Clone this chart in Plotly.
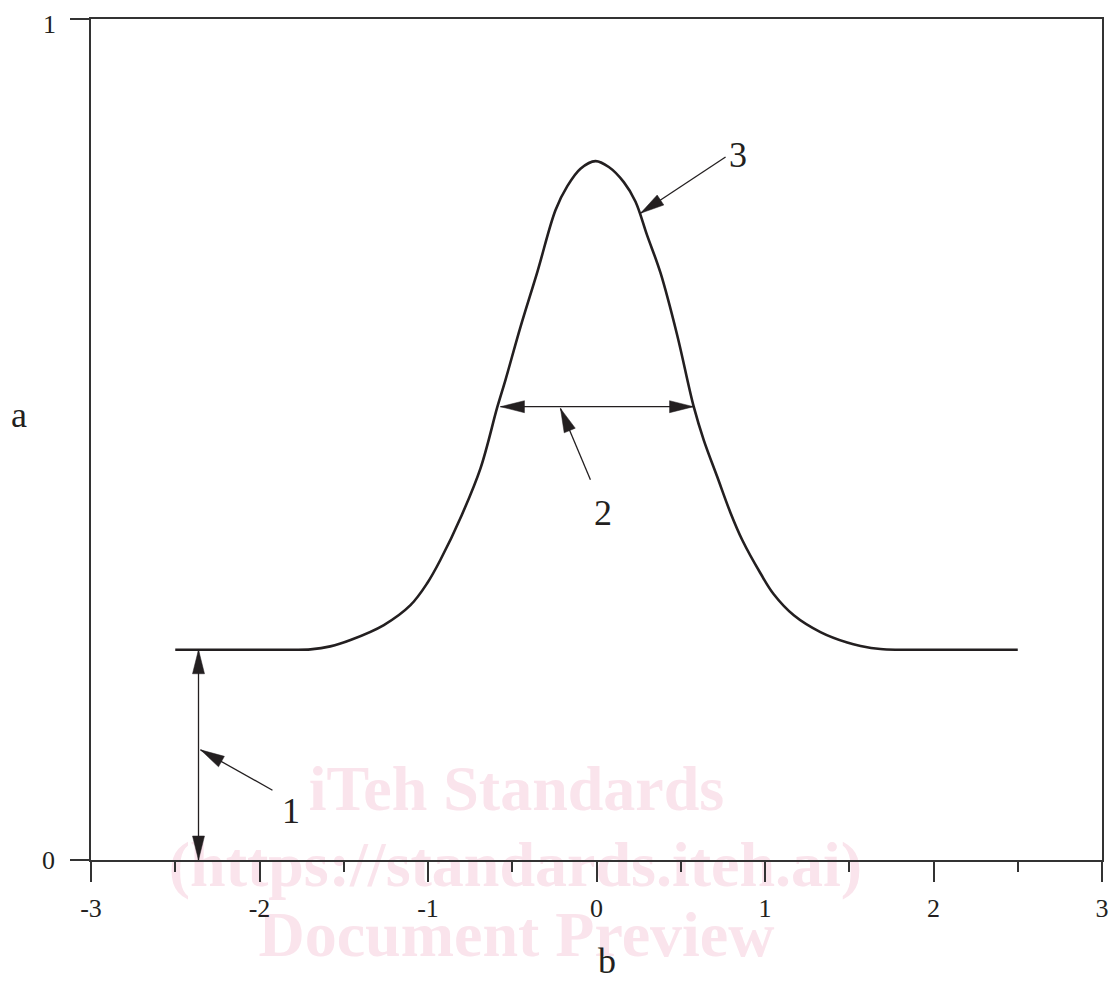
import math
import plotly.graph_objects as go

# ---- data ----
curve_x = [-2.50, -2.00, -1.80, -1.697, -1.58, -1.46, -1.262, -1.104, -1.005, -0.926, -0.80, -0.688,
           -0.588, -0.54, -0.451, -0.35, -0.243, -0.174, -0.095, -0.006, 0.073, 0.162, 0.231,
           0.300, 0.380, 0.479, 0.577, 0.637, 0.716, 0.795, 0.865, 0.973, 1.052, 1.171, 1.329,
           1.488, 1.567, 1.685, 1.80, 2.00, 2.50]
curve_y = [0.250, 0.250, 0.250, 0.2505, 0.254, 0.2616, 0.2794, 0.303, 0.329, 0.357, 0.410, 0.466,
           0.539, 0.571, 0.634, 0.700, 0.773, 0.801, 0.822, 0.831, 0.824, 0.806, 0.783,
           0.743, 0.698, 0.624, 0.539, 0.499, 0.456, 0.413, 0.3805, 0.341, 0.316, 0.291, 0.271,
           0.2585, 0.2545, 0.2508, 0.250, 0.250, 0.250]

x_tickvals = [-3, -2, -1, 0, 1, 2, 3]
x_ticktext = ["-3", "-2", "-1", "0", "1", "2", "3"]
x_minor = [-2.5, -1.5, -0.5, 0.5, 1.5, 2.5]
y_tickvals = [0, 1]
y_ticktext = ["0", "1"]

# arrows: (x_tail, y_tail, x_tip, y_tip, double_headed)
arrows = [
    (-2.362, 0.0, -2.362, 0.25, True),
    (-1.923, 0.083, -2.350, 0.131, False),
    (-0.570, 0.539, 0.576, 0.539, True),
    (-0.036, 0.452, -0.214, 0.537, False),
    (0.766, 0.836, 0.261, 0.769, False),
]
callout_text = ["1", "2", "3"]
callout_x = [-1.816, 0.036, 0.837]
callout_y = [0.058, 0.413, 0.838]

y_title = "a"
y_title_pos = (-3.43, 0.529)
x_title = "b"
x_title_x = 0.065

watermark_text = ["iTeh Standards", "(https://standards.iteh.ai)", "Document Preview"]
watermark_x = [-0.475, -0.481, -0.475]
watermark_y = [0.0785, -0.0119, -0.0951]

# ---- layout geometry (figure sits 8px inside the page) ----
FW, FH = 1109, 975
PL, PR, PT, PB = 83, 1094, 11, 852      # plot-area edges in figure pixels
XR = (-3, 3)
YR = (0, 1)
ppx = (PR - PL) / (XR[1] - XR[0])
ppy = (PB - PT) / (YR[1] - YR[0])

page_xrange = [XR[0] - PL / ppx, XR[0] + (FW - PL) / ppx]
page_yrange = [YR[1] - (FH - PT) / ppy, YR[1] + PT / ppy]

INK = "#231f20"
AX = "#333333"
FONT = "Liberation Serif"
TICK_FONT = dict(family=FONT, size=26, color=INK)

fig = go.Figure()

# watermark on a full-page subplot drawn beneath the chart
fig.add_trace(go.Scatter(
    x=watermark_x, y=watermark_y, mode="text", text=watermark_text,
    textfont=dict(family=FONT, size=64, color="rgb(250,228,236)", weight="bold"),
    xaxis="x", yaxis="y", cliponaxis=False, hoverinfo="skip", showlegend=False))

fig.add_trace(go.Scatter(
    x=curve_x, y=curve_y, mode="lines", xaxis="x2", yaxis="y2",
    line=dict(color=INK, width=2.6, shape="spline", smoothing=1.0),
    hoverinfo="skip", showlegend=False))

shapes = []
HEAD_L, HEAD_W = 24, 12


def head(xt, yt, xf, yf):
    dxp = (xt - xf) * ppx
    dyp = (yt - yf) * ppy
    n = math.hypot(dxp, dyp)
    ux, uy = dxp / n, dyp / n
    bx, by = -ux * HEAD_L, -uy * HEAD_L
    qx, qy = -uy * HEAD_W / 2, ux * HEAD_W / 2
    p1 = (xt + (bx + qx) / ppx, yt + (by + qy) / ppy)
    p2 = (xt + (bx - qx) / ppx, yt + (by - qy) / ppy)
    path = f"M {xt} {yt} L {p1[0]} {p1[1]} L {p2[0]} {p2[1]} Z"
    return dict(type="path", path=path, xref="x2", yref="y2",
                fillcolor=INK, line=dict(color=INK, width=0.5))


for (x0, y0, x1, y1, dbl) in arrows:
    shapes.append(dict(type="line", x0=x0, y0=y0, x1=x1, y1=y1, xref="x2", yref="y2",
                       line=dict(color=INK, width=1.3)))
    shapes.append(head(x1, y1, x0, y0))
    if dbl:
        shapes.append(head(x0, y0, x1, y1))

annotations = []
for t, x, y in zip(callout_text, callout_x, callout_y):
    annotations.append(dict(x=x, y=y, xref="x2", yref="y2", text=t, showarrow=False,
                            font=dict(family=FONT, size=36, color=INK),
                            xanchor="center", yanchor="middle"))
annotations.append(dict(x=y_title_pos[0], y=y_title_pos[1], xref="x", yref="y", text=y_title,
                        showarrow=False, font=dict(family=FONT, size=36, color=INK),
                        xanchor="center", yanchor="middle"))
annotations.append(dict(x=x_title_x, y=0, xref="x", yref="paper", text=x_title,
                        showarrow=False, font=dict(family=FONT, size=36, color=INK),
                        xanchor="center", yanchor="bottom"))
# the top y tick label sits at the very top edge: keep it inside the figure
annotations.append(dict(x=XR[0], y=1, xref="x2", yref="paper", text=y_ticktext[-1],
                        showarrow=False, font=TICK_FONT, xanchor="center", yanchor="top",
                        xshift=-42))
y_ticktext_axis = y_ticktext[:-1] + [""]

fig.update_layout(
    width=FW, height=FH,
    margin=dict(l=0, r=0, t=0, b=0, autoexpand=False),
    paper_bgcolor="white", plot_bgcolor="rgba(0,0,0,0)",
    shapes=shapes, annotations=annotations,
    xaxis=dict(domain=[0, 1], range=page_xrange, visible=False, fixedrange=True),
    yaxis=dict(domain=[0, 1], range=page_yrange, visible=False, fixedrange=True),
    xaxis2=dict(domain=[PL / FW, PR / FW], anchor="y2", range=list(XR),
                showgrid=False, zeroline=False, automargin=False,
                showline=True, linecolor=AX, linewidth=1.5, mirror=True,
                ticks="outside", tickvals=x_tickvals, ticktext=x_ticktext,
                ticklen=20, tickwidth=1.5, tickcolor=AX,
                minor=dict(tickvals=x_minor, ticks="outside", ticklen=10,
                           tickwidth=1.5, tickcolor=AX, showgrid=False),
                tickfont=TICK_FONT,
                ticklabelstandoff=4, ticklabeloverflow="allow"),
    yaxis2=dict(domain=[(FH - PB) / FH, (FH - PT) / FH], anchor="x2", range=list(YR),
                showgrid=False, zeroline=False, automargin=False,
                showline=True, linecolor=AX, linewidth=1.5, mirror=True,
                ticks="outside", tickvals=y_tickvals, ticktext=y_ticktext_axis,
                ticklen=19, tickwidth=1.5, tickcolor=AX,
                tickfont=TICK_FONT,
                ticklabelstandoff=10, ticklabeloverflow="allow"),
)

fig.write_html("out.html")
